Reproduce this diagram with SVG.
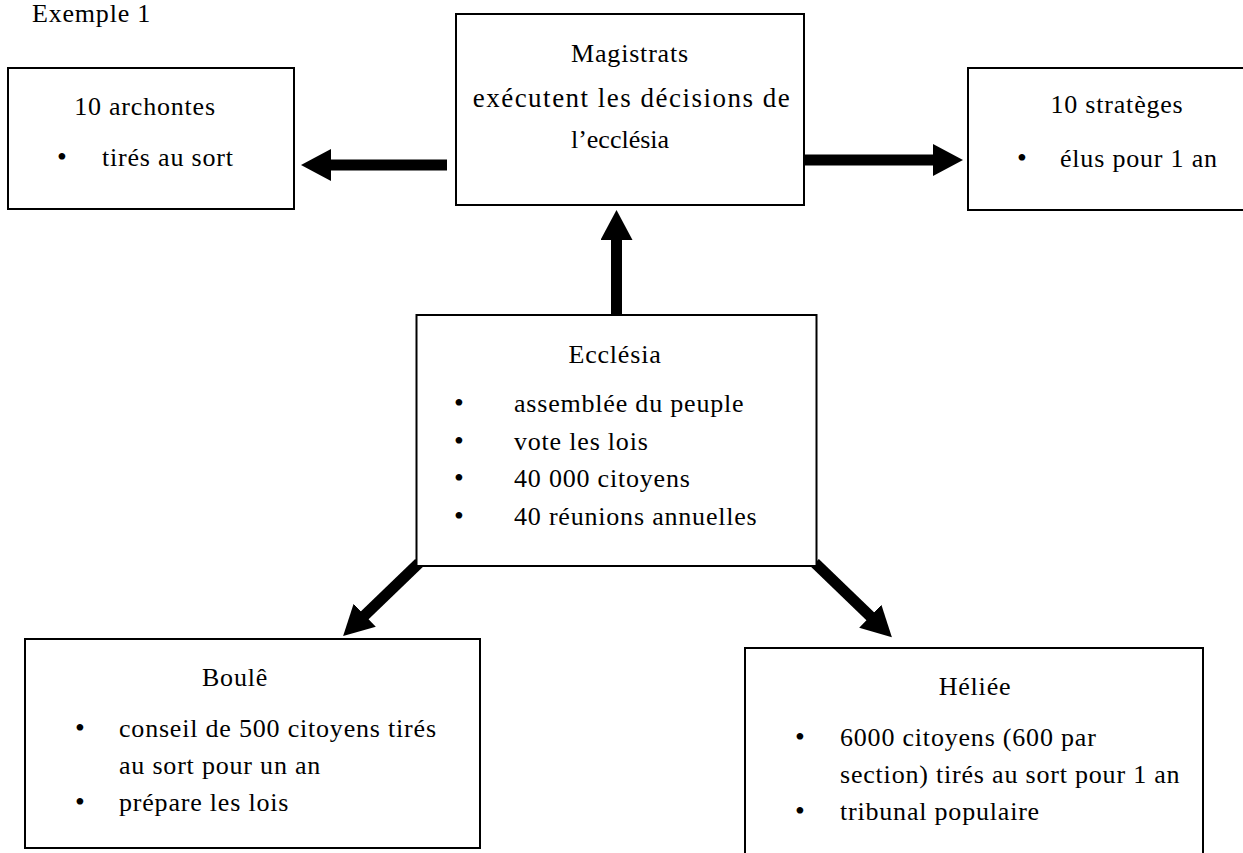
<svg xmlns="http://www.w3.org/2000/svg" width="1243" height="853" viewBox="0 0 1243 853">
  <style>
    text { font-family: "Liberation Serif", "Times New Roman", serif; font-size: 26px; letter-spacing: 0.8px; fill: #000; }
    .t { text-anchor: middle; }
    .b { text-anchor: middle; letter-spacing: 0; font-size: 28px; }
    .box { fill: #fff; stroke: #000; stroke-width: 2; }
    .arrow { stroke: #000; stroke-width: 11; fill: none; marker-end: url(#head); }
  </style>
  <defs>
    <marker id="head" viewBox="0 -16 30 32" refX="1" refY="0" markerUnits="userSpaceOnUse" markerWidth="30" markerHeight="32" orient="auto">
      <path d="M0,-16 L30,0 L0,16 Z" fill="#000"/>
    </marker>
  </defs>
  <rect width="1243" height="853" fill="#fff"/>

  <g id="caption">
    <text x="32" y="22">Exemple 1</text>
  </g>

  <g id="connectors">
    <line class="arrow" x1="447" y1="165" x2="330" y2="165"/>
    <line class="arrow" x1="805" y1="160" x2="934" y2="160"/>
    <line class="arrow" x1="616.5" y1="315" x2="616.5" y2="239"/>
    <line class="arrow" x1="419" y1="563" x2="364" y2="616"/>
    <line class="arrow" x1="815" y1="563" x2="871" y2="617"/>
  </g>

  <g id="archontes">
    <rect class="box" x="8" y="68" width="286" height="141"/>
    <text class="t" x="145" y="115">10 archontes</text>
    <text class="b" x="62" y="166">•</text>
    <text x="102" y="166">tirés au sort</text>
  </g>

  <g id="magistrats">
    <rect class="box" x="456" y="14" width="348" height="191"/>
    <text class="t" x="630" y="62">Magistrats</text>
    <text class="t" x="632" y="107" style="font-size:27px;letter-spacing:1.5px">exécutent les décisions de</text>
    <text class="t" x="620" y="148" style="letter-spacing:0">l’ecclésia</text>
  </g>

  <g id="strateges">
    <rect class="box" x="968" y="68" width="300" height="142"/>
    <text class="t" x="1117" y="113">10 stratèges</text>
    <text class="b" x="1022" y="167">•</text>
    <text x="1060" y="167">élus pour 1 an</text>
  </g>

  <g id="ecclesia">
    <rect class="box" x="416.5" y="315" width="400" height="251"/>
    <text class="t" x="615" y="363">Ecclésia</text>
    <text class="b" x="459" y="412">•</text>
    <text x="514" y="412">assemblée du peuple</text>
    <text class="b" x="459" y="450">•</text>
    <text x="514" y="450">vote les lois</text>
    <text class="b" x="459" y="487">•</text>
    <text x="514" y="487">40 000 citoyens</text>
    <text class="b" x="459" y="525">•</text>
    <text x="514" y="525">40 réunions annuelles</text>
  </g>

  <g id="boule">
    <rect class="box" x="25" y="639" width="455" height="209"/>
    <text class="t" x="235" y="686">Boulê</text>
    <text class="b" x="80" y="737">•</text>
    <text x="119" y="737">conseil de 500 citoyens tirés</text>
    <text x="119" y="774">au sort pour un an</text>
    <text class="b" x="80" y="811">•</text>
    <text x="119" y="811">prépare les lois</text>
  </g>

  <g id="heliee">
    <rect class="box" x="745" y="648" width="458" height="230"/>
    <text class="t" x="975" y="695">Héliée</text>
    <text class="b" x="800" y="746">•</text>
    <text x="840" y="746">6000 citoyens (600 par</text>
    <text x="840" y="783">section) tirés au sort pour 1 an</text>
    <text class="b" x="800" y="820">•</text>
    <text x="840" y="820">tribunal populaire</text>
  </g>
</svg>
